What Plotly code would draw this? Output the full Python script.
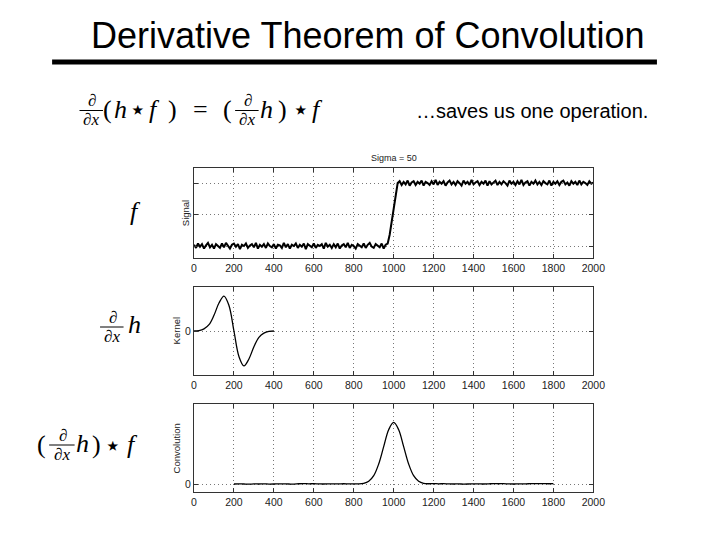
import plotly.graph_objects as go

# ---------------- data ----------------
x_ticks = [0, 200, 400, 600, 800, 1000, 1200, 1400, 1600, 1800, 2000]
x_tick_labels = ["0", "200", "400", "600", "800", "1000", "1200", "1400", "1600", "1800", "2000"]

signal_x = list(range(0, 2001, 10))
signal_low = [
    0.02, -0.03, 0.04, -0.01, 0.03, -0.04, 0.01, 0.05, -0.02, 0.02,
    -0.04, 0.03, 0.00, -0.03, 0.04, -0.02, 0.05, 0.01, -0.04, 0.02,
    0.04, -0.01, 0.03, -0.05, 0.02, 0.00, 0.04, -0.03, 0.01, 0.03,
    -0.02, 0.05, -0.04, 0.02, -0.01, 0.03, -0.03, 0.04, 0.00, -0.02,
    0.03, -0.04, 0.02, 0.01, -0.03, 0.05, -0.02, 0.03, -0.04, 0.02,
    0.00, 0.04, -0.03, 0.02, -0.01, 0.04, -0.05, 0.03, 0.01, -0.02,
    0.04, -0.03, 0.02, 0.00, 0.03, -0.04, 0.05, -0.01, 0.02, -0.03,
    0.03, -0.02, 0.04, -0.04, 0.01, 0.03, -0.02, 0.05, -0.03, 0.02,
    0.00, -0.04, 0.03, 0.01, -0.02, 0.04, -0.03, 0.02, 0.05, -0.01,
    -0.03, 0.03, 0.00, -0.02, 0.04, -0.04, 0.02,
]
signal_ramp = [0.04, 0.18, 0.40, 0.62, 0.85, 1.00]
signal_high = [
    1.03, 0.97, 1.02, 0.98, 1.04, 0.96, 1.01, 1.03, 0.97, 1.02,
    0.99, 1.04, 0.96, 1.02, 1.00, 0.97, 1.03, 0.98, 1.05, 0.97,
    1.02, 0.99, 1.03, 0.96, 1.01, 1.04, 0.98, 1.02, 0.97, 1.03,
    1.00, 0.96, 1.04, 0.99, 1.02, 0.97, 1.05, 0.98, 1.01, 1.03,
    0.97, 1.02, 0.99, 1.04, 0.96, 1.03, 0.98, 1.01, 1.04, 0.97,
    1.02, 0.98, 1.03, 1.00, 0.96, 1.04, 0.99, 1.02, 0.97, 1.03,
    0.98, 1.05, 0.97, 1.01, 1.03, 0.96, 1.02, 0.99, 1.04, 0.98,
    1.02, 0.97, 1.03, 1.00, 0.98, 1.04, 0.96, 1.02, 0.99, 1.03,
    0.97, 1.02, 1.04, 0.98, 1.01, 0.96, 1.03, 0.99, 1.02, 0.97,
    1.04, 0.98, 1.02, 1.00, 0.97, 1.03, 0.99, 1.01,
]
signal_y = signal_low + signal_ramp + signal_high

kernel_x = [0, 25, 50, 75, 100, 125, 150, 175, 200, 225, 250, 275, 300, 325, 350, 375, 400]
kernel_y = [0.00, 0.01, 0.06, 0.18, 0.45, 0.80, 1.00, 0.73, 0.00,
            -0.73, -1.00, -0.80, -0.45, -0.18, -0.06, -0.01, 0.00]

conv_x = list(range(200, 1801, 25))
conv_y = [
    0.000, 0.002, 0.000, -0.002, 0.001, 0.000, 0.002, -0.001, 0.000, 0.003,   # 200-425
    0.001, 0.000, -0.001, 0.004, 0.006, 0.003, 0.005, 0.002, 0.000, 0.003,   # 450-675
    0.001, 0.002, 0.004, 0.002, 0.003, 0.002, 0.011, 0.044, 0.135, 0.325,    # 700-925
    0.607, 0.882, 1.000, 0.882, 0.607, 0.325, 0.135, 0.044, 0.011, 0.004,    # 950-1175
    0.006, 0.003, 0.005, 0.002, 0.000, 0.001, -0.001, 0.000, 0.002, 0.001,   # 1200-1425
    0.000, 0.003, 0.006, 0.004, 0.005, 0.002, 0.000, 0.001, 0.002, 0.004,    # 1450-1675
    0.006, 0.005, 0.007, 0.004, 0.006,                                       # 1700-1800
]

# ---------------- layout helpers ----------------
# Page body margin is 8px; keep the figure inside the window.
OFF = 8
W, H = 704, 515
SERIF = "Liberation Serif, Times New Roman, serif"
SANS = "Liberation Sans, Arial, sans-serif"


def px(x):
    return (x - OFF) / W


def py(y):
    return 1 - (y - OFF) / H


annotations = []
shapes = []


def text(x, y, s, size, family=SERIF, xanchor="center", angle=0, color="black"):
    annotations.append(dict(
        x=px(x), y=py(y), xref="paper", yref="paper", text=s, showarrow=False,
        font=dict(size=size, family=family, color=color), xanchor=xanchor,
        yanchor="middle", textangle=angle,
    ))


def frac(xc, ybar, half, size=17):
    text(xc + 1, ybar - 10, "∂", size)
    text(xc, ybar + 9, "∂<i>x</i>", size)
    shapes.append(dict(type="line", xref="paper", yref="paper",
                       x0=px(xc - half), x1=px(xc + half), y0=py(ybar), y1=py(ybar),
                       line=dict(color="black", width=1)))


def star(x, y):
    text(x, y, "⋆", 28, family="DejaVu Sans, sans-serif")


# ---------------- traces ----------------
fig = go.Figure()
fig.add_trace(go.Scatter(x=signal_x, y=signal_y, mode="lines",
                         line=dict(color="black", width=2), xaxis="x", yaxis="y"))
fig.add_trace(go.Scatter(x=kernel_x, y=kernel_y, mode="lines",
                         line=dict(color="black", width=1.3, shape="spline"),
                         xaxis="x2", yaxis="y2"))
fig.add_trace(go.Scatter(x=conv_x, y=conv_y, mode="lines",
                         line=dict(color="black", width=1.3, shape="spline"),
                         xaxis="x3", yaxis="y3"))

xdom = [px(195), px(603)]
GRID = dict(showgrid=True, gridcolor="#777", griddash="1px,3px", gridwidth=1)
common_x = dict(range=[0, 2000], tickvals=x_ticks, ticktext=x_tick_labels,
                ticks="inside", ticklen=4, tickcolor="#333", mirror="allticks",
                showline=True, linecolor="#333", linewidth=1,
                zeroline=False, tickfont=dict(size=10.5, family=SANS, color="#222"),
                domain=xdom, fixedrange=True, **GRID)
common_y = dict(ticks="inside", ticklen=4, tickcolor="#333", mirror="allticks",
                showline=True, linecolor="#333", linewidth=1,
                zeroline=False, tickfont=dict(size=10.5, family=SANS, color="#222"),
                fixedrange=True, **GRID)

layout = dict(
    width=W, height=H, margin=dict(l=0, r=0, t=0, b=0), autosize=False,
    paper_bgcolor="white", plot_bgcolor="white", showlegend=False,
    xaxis=dict(common_x, anchor="y"),
    yaxis=dict(common_y, anchor="x", domain=[py(258), py(168)], range=[-0.19, 1.24],
               tickvals=[0, 0.5, 1], showticklabels=False),
    xaxis2=dict(common_x, anchor="y2"),
    yaxis2=dict(common_y, anchor="x2", domain=[py(375), py(287)], range=[-1.26, 1.26],
                tickvals=[0], ticktext=["0"]),
    xaxis3=dict(common_x, anchor="y3"),
    yaxis3=dict(common_y, anchor="x3", domain=[py(492), py(404)], range=[-0.13, 1.30],
                tickvals=[0], ticktext=["0"]),
)

# slide title and rule
text(373, 35, "Derivative Theorem of Convolution", 36, family=SANS)
shapes.append(dict(type="line", xref="paper", yref="paper",
                   x0=px(50), x1=px(668), y0=py(62), y1=py(62),
                   line=dict(color="black", width=5)))

# main equation
frac(90, 110.5, 12)
text(107, 110, "(", 26)
text(120, 109, "<i>h</i>", 26)
star(138, 110)
text(155, 110, "<i>f</i>", 26)
text(173, 110, ")", 26)
text(202, 110, "=", 26)
text(229, 110, "(", 26)
frac(249, 110.5, 12)
text(269, 109, "<i>h</i>", 26)
text(285, 110, ")", 26)
star(304, 110)
text(321, 110, "<i>f</i>", 26)

text(420, 111, "…saves us one operation.", 20, family=SANS, xanchor="left")

# subplot captions
text(399, 158, "Sigma = 50", 9, family=SANS, color="#222")
text(186, 213, "Signal", 9.5, family=SANS, angle=-90, color="#222")
text(177, 331, "Kernel", 9.5, family=SANS, angle=-90, color="#222")
text(177, 448, "Convolution", 9.5, family=SANS, angle=-90, color="#222")

# left-hand labels
text(135, 212, "<i>f</i>", 26)
frac(111, 327, 12)
text(134, 324, "<i>h</i>", 26)
text(39, 444, "(", 26)
frac(60, 445, 13)
text(81, 443, "<i>h</i>", 26)
text(95, 444, ")", 26)
star(112, 445)
text(132, 444, "<i>f</i>", 26)

layout["annotations"] = annotations
layout["shapes"] = shapes
fig.update_layout(**layout)

fig.write_html("out.html")
